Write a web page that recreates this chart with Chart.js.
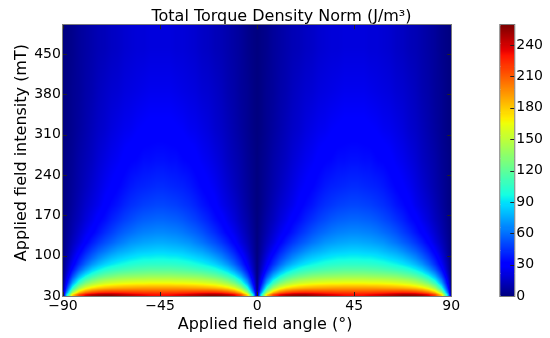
<!DOCTYPE html>
<html>
<head>
<meta charset="utf-8">
<script src="https://cdn.jsdelivr.net/npm/chart.js@4.4.1/dist/chart.umd.min.js"></script>
<style>
  html, body { margin: 0; padding: 0; background: #fff; }
  #wrap { position: relative; width: 550px; height: 338px; }
</style>
</head>
<body>
<div id="wrap"><canvas id="torque-chart"></canvas></div>
<script>
// Grid nodes: angle (deg) and applied field (mT)
const angleNodes = [-90,-88.5,-85.5,-82.5,-79.5,-76.5,-73.5,-70.5,-67.5,-64.5,-61.5,-58.5,-55.5,-52.5,-49.5,-46.5,
  -43.5,-40.5,-37.5,-34.5,-31.5,-28.5,-25.5,-22.5,-19.5,-16.5,-13.5,-10.5,-7.5,-4.5,-1.5,0,
  1.5,4.5,7.5,10.5,13.5,16.5,19.5,22.5,25.5,28.5,31.5,34.5,37.5,40.5,43.5,
  46.5,49.5,52.5,55.5,58.5,61.5,64.5,67.5,70.5,73.5,76.5,79.5,82.5,85.5,88.5,90];
const fieldNodes = [32,36,40,44,48,52.5,57.5,63,69,76,85,95,107.5,122.5,140,162.5,187.5,220,265,320,385,460];
const xTicks = [-90, -45, 0, 45, 90];
const yTicks = [30, 100, 170, 240, 310, 380, 450];
const colorTicks = [0, 30, 60, 90, 120, 150, 180, 210, 240];
const colorMax = 259;

// Torque density norm (J/m3) at each field node, angle -90 -> 90
const band32 = [0,80,178,218,237,248,253,255,255,251,247,244,239,236,233,232,232,233,236,239,244,247,251,255,255,253,248,237,218,178,80,
  0,80,178,218,237,248,253,255,255,251,247,244,239,236,233,232,232,233,236,239,244,247,251,255,255,253,248,237,218,178,80,0];
const band36 = [0,59,142,184,205,216,222,225,226,225,224,222,221,219,219,218,218,219,219,221,222,224,225,226,225,222,216,205,184,142,59,
  0,59,142,184,205,216,222,225,226,225,224,222,221,219,219,218,218,219,219,221,222,224,225,226,225,222,216,205,184,142,59,0];
const band40 = [0,47,119,160,181,193,200,204,206,206,206,206,206,205,205,205,205,205,205,206,206,206,206,206,204,200,193,181,160,119,47,
  0,47,119,160,181,193,200,204,206,206,206,206,206,205,205,205,205,205,205,206,206,206,206,206,204,200,193,181,160,119,47,0];
const band44 = [0,39,101,139,160,172,179,183,186,188,189,190,191,192,192,192,192,192,192,191,190,189,188,186,183,179,172,160,139,101,39,
  0,39,101,139,160,172,179,183,186,188,189,190,191,192,192,192,192,192,192,191,190,189,188,186,183,179,172,160,139,101,39,0];
const band48 = [0,33,88,124,145,157,165,170,173,175,177,178,179,179,180,180,180,180,179,179,178,177,175,173,170,165,157,145,124,88,33,
  0,33,88,124,145,157,165,170,173,175,177,178,179,179,180,180,180,180,179,179,178,177,175,173,170,165,157,145,124,88,33,0];
const band52 = [0,27,74,107,128,141,149,155,158,161,163,164,165,165,166,166,166,166,165,165,164,163,161,158,155,149,141,128,107,74,27,
  0,27,74,107,128,141,149,155,158,161,163,164,165,165,166,166,166,166,165,165,164,163,161,158,155,149,141,128,107,74,27,0];
const band57 = [0,23,64,94,114,127,136,142,146,148,150,152,153,153,154,154,154,154,153,153,152,150,148,146,142,136,127,114,94,64,23,
  0,23,64,94,114,127,136,142,146,148,150,152,153,153,154,154,154,154,153,153,152,150,148,146,142,136,127,114,94,64,23,0];
const band63 = [0,19,53,80,99,112,121,127,131,135,137,138,139,140,141,141,141,141,140,139,138,137,135,131,127,121,112,99,80,53,19,
  0,19,53,80,99,112,121,127,131,135,137,138,139,140,141,141,141,141,140,139,138,137,135,131,127,121,112,99,80,53,19,0];
const band69 = [0,15,44,68,85,98,107,114,118,122,124,126,127,128,129,129,129,129,128,127,126,124,122,118,114,107,98,85,68,44,15,
  0,15,44,68,85,98,107,114,118,122,124,126,127,128,129,129,129,129,128,127,126,124,122,118,114,107,98,85,68,44,15,0];
const band76 = [0,12,35,55,71,84,93,100,105,108,111,113,115,116,117,117,117,117,116,115,113,111,108,105,100,93,84,71,55,35,12,
  0,12,35,55,71,84,93,100,105,108,111,113,115,116,117,117,117,117,116,115,113,111,108,105,100,93,84,71,55,35,12,0];
const band85 = [0,10,28,44,58,70,79,86,91,95,98,101,103,104,105,105,105,105,104,103,101,98,95,91,86,79,70,58,44,28,10,
  0,10,28,44,58,70,79,86,91,95,98,101,103,104,105,105,105,105,104,103,101,98,95,91,86,79,70,58,44,28,10,0];
const band95 = [0,8,23,37,49,59,68,75,81,85,88,91,93,95,95,96,96,95,95,93,91,88,85,81,75,68,59,49,37,23,8,
  0,8,23,37,49,59,68,75,81,85,88,91,93,95,95,96,96,95,95,93,91,88,85,81,75,68,59,49,37,23,8,0];
const band107 = [0,6,18,29,40,49,57,63,69,74,77,80,83,84,85,86,86,85,84,83,80,77,74,69,63,57,49,40,29,18,6,
  0,6,18,29,40,49,57,63,69,74,77,80,83,84,85,86,86,85,84,83,80,77,74,69,63,57,49,40,29,18,6,0];
const band122 = [0,5,14,22,31,39,46,52,57,62,66,70,72,74,75,76,76,75,74,72,70,66,62,57,52,46,39,31,22,14,5,
  0,5,14,22,31,39,46,52,57,62,66,70,72,74,75,76,76,75,74,72,70,66,62,57,52,46,39,31,22,14,5,0];
const band140 = [0,4,11,18,25,31,37,43,48,53,57,60,63,65,66,67,67,66,65,63,60,57,53,48,43,37,31,25,18,11,4,
  0,4,11,18,25,31,37,43,48,53,57,60,63,65,66,67,67,66,65,63,60,57,53,48,43,37,31,25,18,11,4,0];
const band162 = [0,3,9,14,20,25,31,35,40,44,48,51,54,56,57,58,58,57,56,54,51,48,44,40,35,31,25,20,14,9,3,
  0,3,9,14,20,25,31,35,40,44,48,51,54,56,57,58,58,57,56,54,51,48,44,40,35,31,25,20,14,9,3,0];
const band187 = [0,2,7,12,17,21,25,30,34,37,41,44,46,48,49,50,50,49,48,46,44,41,37,34,30,25,21,17,12,7,2,
  0,2,7,12,17,21,25,30,34,37,41,44,46,48,49,50,50,49,48,46,44,41,37,34,30,25,21,17,12,7,2,0];
const band220 = [0,2,6,10,14,18,22,26,29,32,35,38,40,41,42,43,43,42,41,40,38,35,32,29,26,22,18,14,10,6,2,
  0,2,6,10,14,18,22,26,29,32,35,38,40,41,42,43,43,42,41,40,38,35,32,29,26,22,18,14,10,6,2,0];
const band265 = [0,2,5,9,12,15,19,22,25,27,30,32,33,35,35,36,36,35,35,33,32,30,27,25,22,19,15,12,9,5,2,
  0,2,5,9,12,15,19,22,25,27,30,32,33,35,35,36,36,35,35,33,32,30,27,25,22,19,15,12,9,5,2,0];
const band320 = [0,1,4,7,10,13,16,18,21,23,25,26,28,29,30,30,30,30,29,28,26,25,23,21,18,16,13,10,7,4,1,
  0,1,4,7,10,13,16,18,21,23,25,26,28,29,30,30,30,30,29,28,26,25,23,21,18,16,13,10,7,4,1,0];
const band385 = [0,1,4,6,9,11,14,16,18,19,21,22,23,24,25,25,25,25,24,23,22,21,19,18,16,14,11,9,6,4,1,
  0,1,4,6,9,11,14,16,18,19,21,22,23,24,25,25,25,25,24,23,22,21,19,18,16,14,11,9,6,4,1,0];
const band460 = [0,1,3,6,8,10,12,13,15,16,18,19,20,20,21,21,21,21,20,20,19,18,16,15,13,12,10,8,6,3,1,
  0,1,3,6,8,10,12,13,15,16,18,19,20,20,21,21,21,21,20,20,19,18,16,15,13,12,10,8,6,3,1,0];

const bands = [band32, band36, band40, band44, band48, band52, band57, band63, band69, band76, band85,
  band95, band107, band122, band140, band162, band187, band220, band265, band320, band385, band460];

// Colormap jet (matplotlib)
const jetR = [[0, 0], [0.35, 0], [0.66, 1], [0.89, 1], [1, 0.5]];
const jetG = [[0, 0], [0.125, 0], [0.375, 1], [0.64, 1], [0.91, 0], [1, 0]];
const jetB = [[0, 0.5], [0.11, 1], [0.34, 1], [0.65, 0], [1, 0]];

function seg(points, t) {
  for (let k = 1; k < points.length; k++) {
    if (t <= points[k][0]) {
      const [t0, v0] = points[k - 1];
      const [t1, v1] = points[k];
      return v0 + (v1 - v0) * (t - t0) / (t1 - t0);
    }
  }
  return points[points.length - 1][1];
}

function jetRGB(value) {
  const t = Math.max(0, Math.min(1, value / colorMax));
  return [Math.round(255 * seg(jetR, t)), Math.round(255 * seg(jetG, t)), Math.round(255 * seg(jetB, t))];
}

function jet(value) {
  const [r, g, b] = jetRGB(value);
  return `rgb(${r},${g},${b})`;
}

// posição de um valor entre dois nós da grade
function bracket(nodes, v) {
  const n = nodes.length;
  if (v <= nodes[0]) return [0, 0, 0];
  if (v >= nodes[n - 1]) return [n - 1, n - 1, 0];
  let k = 0;
  while (nodes[k + 1] < v) k++;
  return [k, k + 1, (v - nodes[k]) / (nodes[k + 1] - nodes[k])];
}

const minus = v => (v < 0 ? '\u2212' + Math.abs(v) : String(v));

// Desenho do mapa (sombreado bilinear, como o imshow) e da barra de cores
const heatmapPlugin = {
  id: 'heatmap',
  beforeDatasetsDraw(chart) {
    const { ctx, chartArea: a, scales: { x, y, cbar } } = chart;
    const left = Math.round(a.left);
    const top = Math.round(a.top);
    const w = Math.round(a.right) - left;
    const h = Math.round(a.bottom) - top;
    const img = ctx.createImageData(w, h);
    const cols = [];
    for (let px = 0; px < w; px++) {
      cols.push(bracket(angleNodes, x.getValueForPixel(left + px + 0.5)));
    }
    for (let py = 0; py < h; py++) {
      const [r0, r1, fy] = bracket(fieldNodes, y.getValueForPixel(top + py + 0.5));
      const lo = bands[r0];
      const hi = bands[r1];
      for (let px = 0; px < w; px++) {
        const [c0, c1, fx] = cols[px];
        const v0 = lo[c0] + (lo[c1] - lo[c0]) * fx;
        const v1 = hi[c0] + (hi[c1] - hi[c0]) * fx;
        const rgb = jetRGB(v0 + (v1 - v0) * fy);
        const k = (py * w + px) * 4;
        img.data[k] = rgb[0];
        img.data[k + 1] = rgb[1];
        img.data[k + 2] = rgb[2];
        img.data[k + 3] = 255;
      }
    }
    ctx.putImageData(img, left, top);

    ctx.save();
    const barLeft = cbar.left + 49;
    for (let v = 0; v < colorMax; v++) {
      const yTop = Math.floor(cbar.getPixelForValue(Math.min(v + 1, colorMax)));
      const yBot = Math.ceil(cbar.getPixelForValue(v));
      ctx.fillStyle = jet(v + 0.5);
      ctx.fillRect(barLeft, yTop, 14, yBot - yTop);
    }
    ctx.restore();
  },
  afterDraw(chart) {
    const { ctx, chartArea: a, scales: { x, y, cbar } } = chart;
    const barLeft = cbar.left + 49;
    ctx.save();
    ctx.strokeStyle = '#222';
    ctx.lineWidth = 1;
    ctx.beginPath();
    xTicks.forEach(v => {
      const px = Math.round(x.getPixelForValue(v)) + 0.5;
      ctx.moveTo(px, a.bottom); ctx.lineTo(px, a.bottom - 4);
      ctx.moveTo(px, a.top); ctx.lineTo(px, a.top + 4);
    });
    yTicks.forEach(v => {
      const py = Math.round(y.getPixelForValue(v)) + 0.5;
      ctx.moveTo(a.left, py); ctx.lineTo(a.left + 4, py);
      ctx.moveTo(a.right, py); ctx.lineTo(a.right - 4, py);
    });
    colorTicks.forEach(v => {
      const py = Math.round(cbar.getPixelForValue(v)) + 0.5;
      ctx.moveTo(barLeft + 14, py); ctx.lineTo(barLeft + 10, py);
    });
    ctx.stroke();
    ctx.strokeStyle = '#7a7a7a';
    ctx.strokeRect(Math.round(a.left) - 0.5, Math.round(a.top) - 0.5, Math.round(a.right - a.left) + 1, Math.round(a.bottom - a.top) + 1);
    ctx.strokeRect(barLeft - 0.5, Math.round(a.top) - 0.5, 15, Math.round(a.bottom - a.top) + 1);
    ctx.restore();
  }
};

Chart.defaults.font.family = "'DejaVu Sans', sans-serif";
Chart.defaults.color = '#000';

const ctx = document.getElementById('torque-chart').getContext('2d');
const chart = new Chart(ctx, {
  type: 'scatter',
  data: { datasets: [] },
  options: {
    responsive: true,
    maintainAspectRatio: false,
    devicePixelRatio: 1,
    animation: false,
    events: [],
    layout: { padding: { left: 2, right: 5, top: 0, bottom: 0 } },
    plugins: {
      legend: { display: false },
      tooltip: { enabled: false },
      title: {
        display: true,
        text: '\u2003Total Torque Density Norm (J/m³)',
        font: { size: 16, weight: 'normal' },
        color: '#000',
        padding: { top: 7, bottom: -1 }
      }
    },
    scales: {
      x: {
        type: 'linear',
        min: -90,
        max: 90,
        afterBuildTicks: s => { s.ticks = xTicks.map(v => ({ value: v })); },
        ticks: { font: { size: 14 }, padding: 2, maxRotation: 0, autoSkip: false, callback: v => minus(v) },
        grid: { display: false, drawTicks: false },
        border: { display: false },
        title: { display: true, text: '\u2003Applied field angle (°)', font: { size: 16 }, padding: { top: -2, bottom: 4 } }
      },
      y: {
        type: 'linear',
        min: 30,
        max: 500,
        afterBuildTicks: s => { s.ticks = yTicks.map(v => ({ value: v })); },
        ticks: { font: { size: 14 }, padding: 2, autoSkip: false, callback: v => String(v) },
        grid: { display: false, drawTicks: false },
        border: { display: false },
        title: { display: true, text: '\u2003Applied field intensity (mT)', font: { size: 16 }, padding: { top: 10, bottom: 1 } }
      },
      cbar: {
        type: 'linear',
        axis: 'y',
        position: 'right',
        min: 0,
        max: colorMax,
        afterBuildTicks: s => { s.ticks = colorTicks.map(v => ({ value: v })); },
        ticks: { font: { size: 14 }, padding: 2, autoSkip: false, callback: v => String(v) },
        grid: { display: true, drawOnChartArea: false, drawTicks: true, tickLength: 63, color: 'rgba(0,0,0,0)' },
        border: { display: false }
      }
    }
  },
  plugins: [heatmapPlugin]
});
</script>
</body>
</html>
